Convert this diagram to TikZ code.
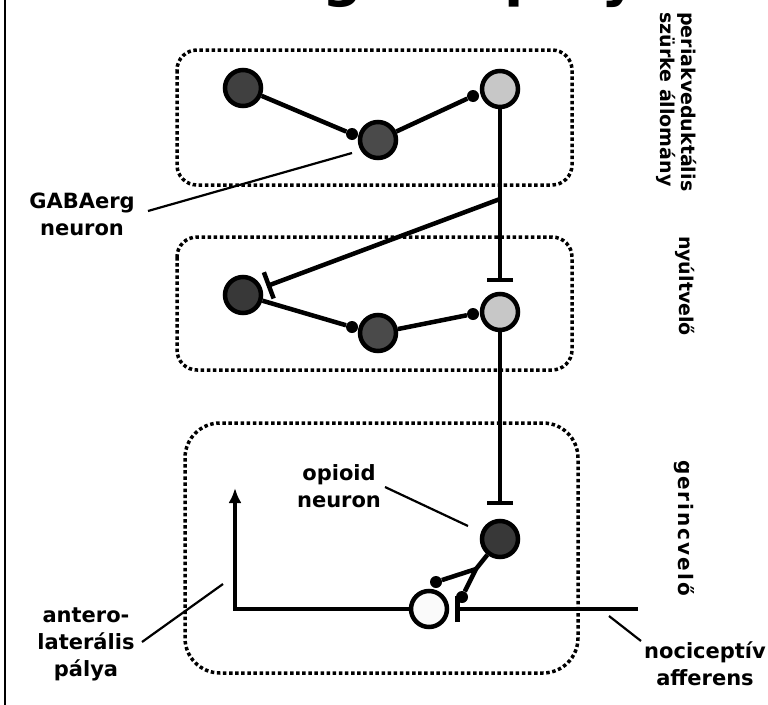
\documentclass[tikz,border=0pt]{standalone}
\usepackage{fontspec}
\setmainfont{DejaVu Sans}
\usetikzlibrary{
	arrows.meta,
	positioning,
}
\tikzset{neuron/.style={
	draw,
	circle,
	inner sep=0mm,
	minimum size=36pt,
	line width=4.5pt,
}}
\tikzset{gaba/.style={neuron, fill=black!75}}
\tikzset{relay/.style={neuron, fill=black!22}}
\tikzset{afferent/.style={neuron, fill=black!2}}
\tikzset{syn/.style={
	circle,
	fill,
	inner sep=0mm,
	minimum size=12pt,
}}
\tikzset{axon/.style={line width=4.5pt}}
\tikzset{lead/.style={line width=2.2pt}}
\tikzset{region/.style={
	line width=3.5pt,
	dash pattern=on 3.5pt off 2.6pt,
}}
\tikzset{caption/.style={
	align=center,
	inner sep=0mm,
	font=\bfseries\fontsize{21}{27}\selectfont,
}}
\tikzset{side/.style={
	rotate=-90,
	align=left,
	inner sep=0mm,
	font=\bfseries\fontsize{19}{21}\selectfont,
}}

\begin{document}
\begin{tikzpicture}[x=1pt,y=-1pt]
\useasboundingbox (0,0) rectangle (768,704);

% title, only its lowest part shows
\begin{scope}
\clip (300,0) rectangle (660,9);
\node[anchor=base west, inner sep=0mm, font=\bfseries\fontsize{56}{60}\selectfont](title) at (322,-5) {gátló pálya};
\end{scope}
\draw[line width=2pt] (5,-5) -- (5,710);

% regions
\draw[region, rounded corners=20pt] (177,50) rectangle (572,185);
\draw[region, rounded corners=20pt] (177,237) rectangle (572,370);
\draw[region, rounded corners=35pt] (185,423) rectangle (578,673);

\node[side, anchor=north west](pag) at (697,12) {periakveduktális\\szürke állomány};
\node[side](med) at (685,286) {nyúltvelő};
\node[side, font=\bfseries\fontsize{20}{21}\selectfont\addfontfeature{LetterSpace=10}](spc) at (684,528) {gerincvelő};

% neurons
\node[gaba](n1) at (243,88) {};
\node[gaba, fill=black!71](n2) at (378,140) {};
\node[relay](n3) at (500,89) {};

\node[gaba, fill=black!78](n4) at (243,295) {};
\node[gaba, fill=black!71](n5) at (378,333) {};
\node[relay](n6) at (500,312) {};

\node[gaba, fill=black!78](n7) at (500,539) {};
\node[afferent](n8) at (429,609) {};

% synapses
\node[syn](s12) at (352,134) {};
\node[syn](s23) at (473,96) {};
\node[syn](s45) at (352,327) {};
\node[syn](s56) at (473,314) {};
\node[syn](s78a) at (436,582) {};
\node[syn](s78b) at (462,597) {};

% PAG
\draw[axon] (n1) -- (s12);
\draw[axon] (n2) -- (s23);
\coordinate (br1) at (500,199);
\coordinate (t6) at (500,282);
\draw[axon, -{Bar[width=26pt]}] (n3) -- (t6);
\draw[axon, -{Bar[width=28pt]}, shorten >=5pt] (br1) -- (n4);

% medulla
\draw[axon] (n4) -- (s45);
\draw[axon] (n5) -- (s56);
\coordinate (t7) at (500,505);
\draw[axon, -{Bar[width=26pt]}] (n6) -- (t7);

% spinal cord
\coordinate (br2) at (476,569);
\draw[axon] (n7) -- (br2) -- (s78b);
\draw[axon] (br2) -- (s78a);
\coordinate (aff) at (638,609);
\coordinate (t8) at (455,609);
\draw[axon, -{Bar[width=26pt]}] (aff) -- (t8);
\coordinate (corner) at (235,609);
\coordinate (asc) at (235,488);
\draw[axon, -{Latex[length=15pt,width=13pt]}] (n8) -- (corner) -- (asc);

% captions
\node[caption](lgaba) at (82,214) {GABAerg\\neuron};
\coordinate (g0) at (148,211);
\coordinate (g1) at (352,153);
\draw[lead] (g0) -- (g1);

\node[caption](lopi) at (339,486) {opioid\\neuron};
\coordinate (o0) at (385,487);
\coordinate (o1) at (468,526);
\draw[lead] (o0) -- (o1);

\node[caption](lalp) at (86,644) {antero-\\laterális\\pálya};
\coordinate (a0) at (142,642);
\coordinate (a1) at (223,584);
\draw[lead] (a0) -- (a1);

\node[caption](lnoc) at (705,664) {nociceptív\\afferens};
\coordinate (c0) at (609,616);
\coordinate (c1) at (641,641);
\draw[lead] (c0) -- (c1);

\end{tikzpicture}
\end{document}
